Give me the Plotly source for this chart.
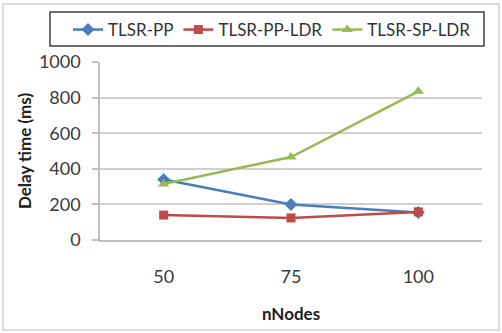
import plotly.graph_objects as go

# Delay time (ms) against number of nodes for three routing schemes
nodes = ["50", "75", "100"]
tlsr_pp = [340, 200, 155]
tlsr_pp_ldr = [140, 124, 158]
tlsr_sp_ldr = [315, 466, 835]

series = [
    ("TLSR-PP", tlsr_pp, "#4a7ebb", "diamond", 10),
    ("TLSR-PP-LDR", tlsr_pp_ldr, "#be4b48", "square", 9),
    ("TLSR-SP-LDR", tlsr_sp_ldr, "#98b954", "triangle-up", 10),
]

FONT = "Lato, 'Open Sans', sans-serif"

fig = go.Figure()
for name, vals, color, sym, size in series:
    fig.add_trace(go.Scatter(
        x=nodes, y=vals, name=name, mode="lines+markers",
        line=dict(color=color, width=2.5),
        marker=dict(symbol=sym, size=size, color=color),
    ))

W, H = 502, 333
L, R, T, B = 100, 20, 62, 93
pw, ph = W - L - R, H - T - B

def px_x(v):
    return (v - L) / pw

def px_y(v):
    return 1 - (v - T) / ph

fig.update_layout(
    width=W, height=H,
    margin=dict(l=L, r=R, t=T, b=B, autoexpand=False),
    paper_bgcolor="white", plot_bgcolor="white",
    font=dict(family=FONT, size=18, color="#3a3a3a"),
    showlegend=True,
    legend=dict(
        orientation="h",
        x=px_x(68), xanchor="left",
        y=px_y(12), yanchor="top",
        borderwidth=0,
        bgcolor="rgba(0,0,0,0)",
        font=dict(family=FONT, size=17, color="#333333"),
        itemwidth=30,
        tracegroupgap=0,
    ),
    xaxis=dict(
        type="category", range=[-0.5, 2.5],
        showgrid=False, showline=True, linecolor="#bfbfbf", linewidth=1.5,
        ticks="", tickfont=dict(size=18), ticklabelstandoff=20,
        title=dict(text="<b>nNodes</b>", font=dict(size=17, color="#222222"), standoff=22),
    ),
    yaxis=dict(
        range=[0, 1000], dtick=200,
        showgrid=True, gridcolor="#d0d0d0", gridwidth=1.5,
        showline=True, linecolor="#bfbfbf", linewidth=1.5,
        ticks="outside", ticklen=6, tickcolor="#bfbfbf", tickwidth=1.5,
        tickfont=dict(size=18), ticklabelstandoff=8,
        zeroline=False,
        title=dict(text="<b>Delay time (ms)</b>", font=dict(size=17, color="#222222"), standoff=3),
    ),
    shapes=[
        # outer chart frame
        dict(
            type="rect", xref="paper", yref="paper",
            x0=px_x(3), x1=px_x(499), y0=px_y(330), y1=px_y(4),
            line=dict(color="#d0d0d0", width=1.5), fillcolor="rgba(0,0,0,0)",
            layer="below",
        ),
        # legend frame
        dict(
            type="rect", xref="paper", yref="paper",
            x0=px_x(50), x1=px_x(484), y0=px_y(46), y1=px_y(12),
            line=dict(color="#404040", width=1.5), fillcolor="rgba(0,0,0,0)",
        ),
    ],
)

fig.write_html("out.html")
